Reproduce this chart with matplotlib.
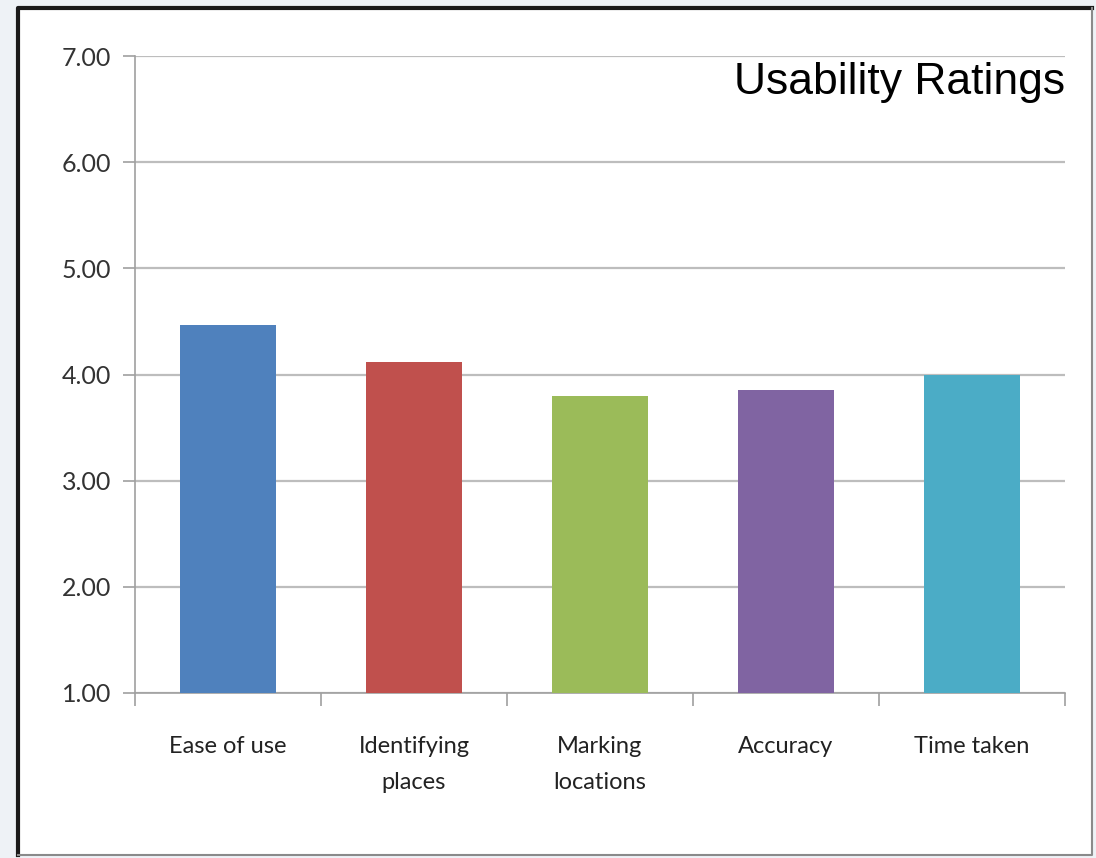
import numpy as np
import matplotlib.pyplot as plt
from matplotlib.patches import Rectangle
from matplotlib.lines import Line2D

categories = ['Ease of use', 'Identifying\nplaces', 'Marking\nlocations', 'Accuracy', 'Time taken']
ratings = [4.47, 4.12, 3.80, 3.85, 4.00]
colors = ['#4f81bd', '#c0504d', '#9bbb59', '#8064a2', '#4bacc6']
yticks = [1, 2, 3, 4, 5, 6, 7]

fig = plt.figure(figsize=(10.96, 8.58), dpi=100, facecolor='#eef2f6')

# white panel behind the chart, dark edge top/left, grey edge right/bottom
L, R, B, T = 18 / 1096, 1092 / 1096, 3 / 858, 850 / 858
fig.patches.append(Rectangle((L, B), R - L, T - B, transform=fig.transFigure,
                             facecolor='white', edgecolor='none', zorder=-2))
fig.lines.append(Line2D([L, L, R], [B, T, T], transform=fig.transFigure,
                        color='#1a1a1a', linewidth=3, zorder=-1))
fig.lines.append(Line2D([L, R, R], [B, B, T], transform=fig.transFigure,
                        color='#8a8a8a', linewidth=1.5, zorder=-1))

ax = fig.add_axes([135 / 1096, 1 - 693 / 858, 930 / 1096, 637 / 858])
ax.set_zorder(1)
ax.patch.set_alpha(0)
x = np.arange(len(categories))
ax.bar(x, np.array(ratings) - 1, bottom=1, width=0.52, color=colors, zorder=3)

ax.set_xlim(-0.5, len(categories) - 0.5)
ax.set_ylim(1, 7)
ax.set_yticks(yticks)
ax.set_yticklabels(['%.2f' % v for v in yticks])
ax.set_xticks(x)
ax.set_xticklabels(categories, linespacing=1.85)
ax.set_xticks(np.arange(len(categories) + 1) - 0.5, minor=True)

ax.grid(axis='y', color='#bdbdbd', linewidth=1.6, zorder=0)
for s in ['top', 'right']:
    ax.spines[s].set_visible(False)
for s in ['left', 'bottom']:
    ax.spines[s].set_color('#a0a0a0')
    ax.spines[s].set_linewidth(1.2)

ax.tick_params(axis='y', length=9, color='#a0a0a0', width=1.2, pad=8,
               labelsize=18, labelcolor='#333333')
ax.tick_params(axis='x', which='major', length=0, pad=31,
               labelsize=17, labelcolor='#222222')
ax.tick_params(axis='x', which='minor', length=9, color='#a0a0a0', width=1.2)
for lbl in ax.get_xticklabels() + ax.get_yticklabels():
    lbl.set_family('Lato')

ax.text(1.0, 0.99, 'Usability Ratings', transform=ax.transAxes,
        ha='right', va='top', fontsize=32, family='Liberation Sans', zorder=4)

fig.savefig('out.png', dpi=100, facecolor=fig.get_facecolor())
